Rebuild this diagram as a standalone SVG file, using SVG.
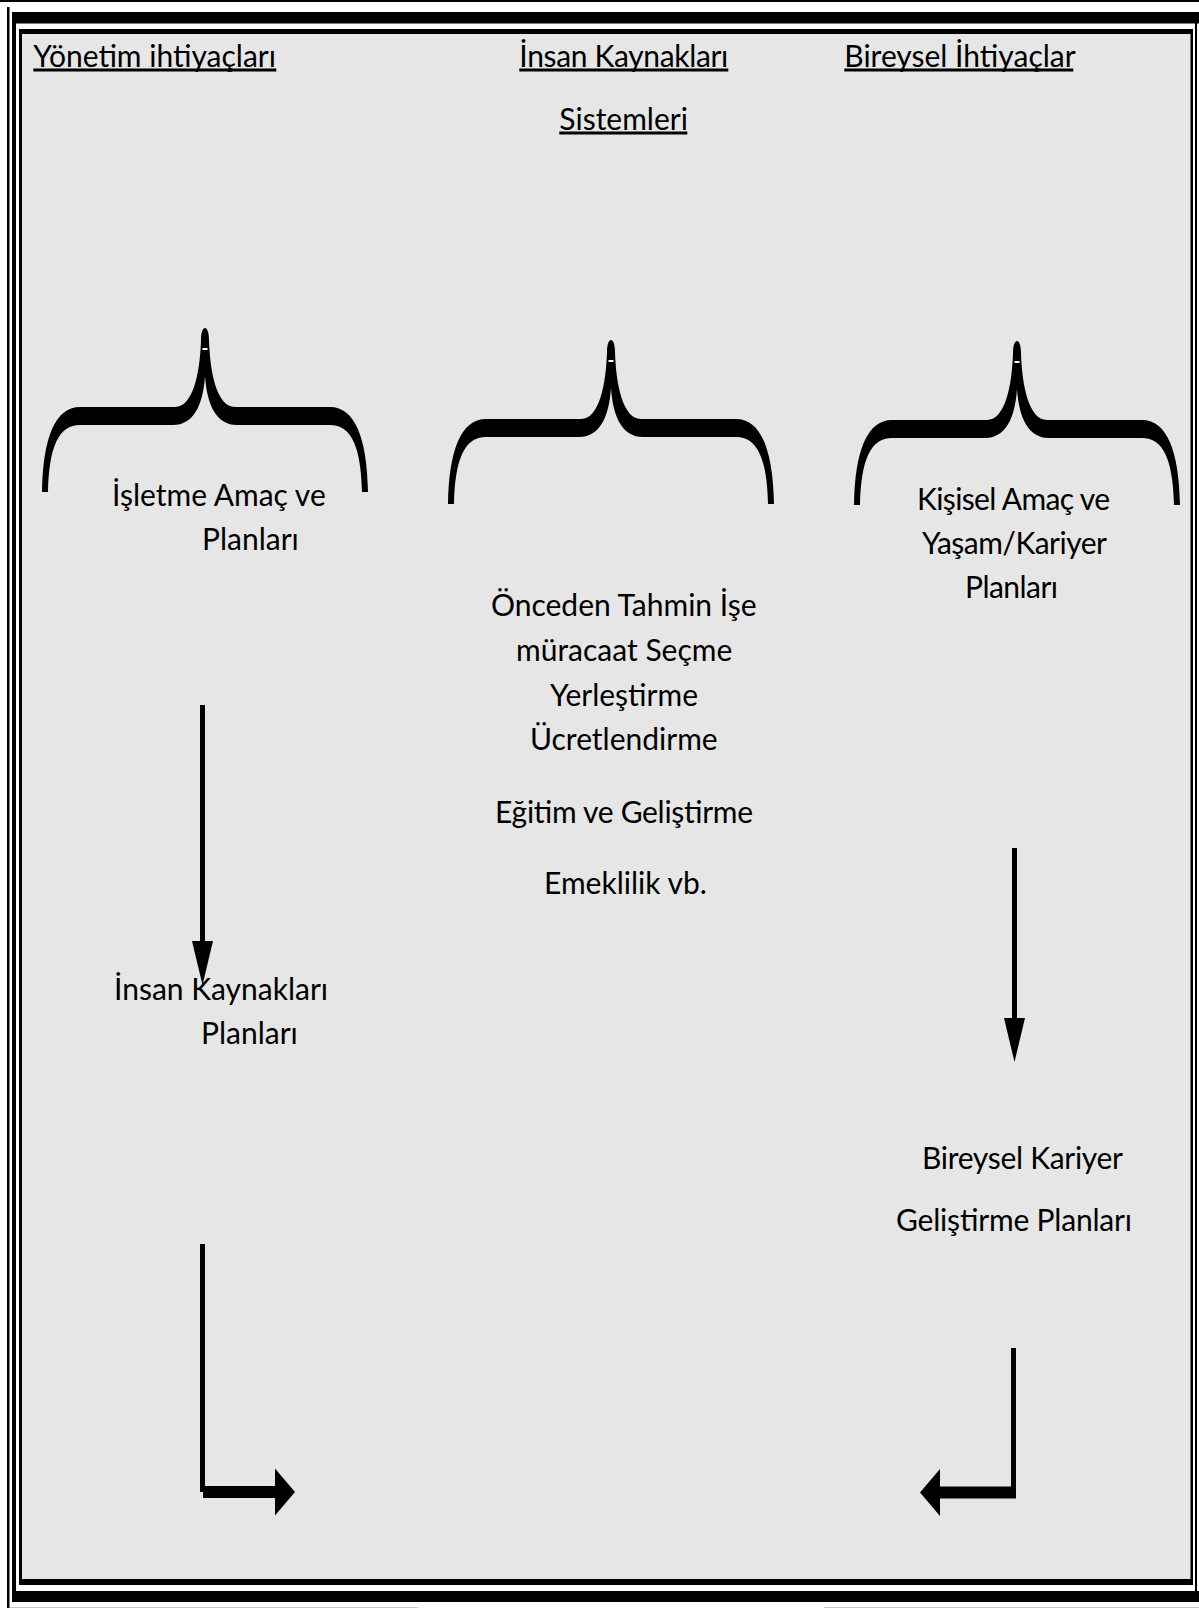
<svg xmlns="http://www.w3.org/2000/svg" width="1199" height="1608" viewBox="0 0 1199 1608">
<style>
  .t { font-family: "Lato", "Carlito", "Liberation Sans", sans-serif; font-size: 30px; fill: #000; }
  .blk { fill: #000; }
  .shaft { stroke: #000; stroke-width: 5; fill: none; }
  .bar { stroke: #000; stroke-width: 12; fill: none; }
</style>
<defs>
  <path id="brace" d="M -163,164 C -162,110 -150,79 -125,79 L -30,79 C -12,79 -5,45 -4,12 C -4,4 -2,0 0,0 C 2,0 4,4 4,12 C 5,45 12,79 30,79 L 125,79 C 150,79 162,110 163,164 L 157,164 C 156,118 146,97 125,97 L 32,97 C 12,97 2,78 0,48 C -2,78 -12,97 -32,97 L -125,97 C -146,97 -156,118 -157,164 Z" fill="#000"/>
  <marker id="head" viewBox="0 0 44 21" refX="2" refY="10.5" markerWidth="44" markerHeight="21" markerUnits="userSpaceOnUse" orient="auto">
    <path d="M0,0 L44,10.5 L0,21 Z" fill="#000"/>
  </marker>
  <marker id="block" viewBox="0 0 20 47" refX="1" refY="23.5" markerWidth="20" markerHeight="47" markerUnits="userSpaceOnUse" orient="auto">
    <path d="M0,0 L20,23.5 L0,47 Z" fill="#000"/>
  </marker>
</defs>

<g id="frame">
  <rect x="0" y="0" width="1199" height="1608" fill="#fff"/>
  <rect x="22" y="34" width="1169" height="1545" fill="#e6e6e6"/>
  <rect class="blk" x="0" y="0" width="1199" height="2"/>
  <rect class="blk" x="7" y="7" width="2.5" height="1601"/>
  <rect class="blk" x="12" y="12" width="1187" height="11.5"/>
  <rect class="blk" x="12" y="12" width="4" height="1590"/>
  <rect class="blk" x="19" y="29" width="1174" height="5"/>
  <rect class="blk" x="19" y="29" width="3" height="1556"/>
  <rect class="blk" x="1190.5" y="29" width="2.5" height="1556"/>
  <rect class="blk" x="1195" y="23" width="2" height="1568"/>
  <rect class="blk" x="19" y="1579" width="1174" height="6"/>
  <rect class="blk" x="12" y="1591" width="1187" height="11"/>
  <rect x="10" y="1607" width="408" height="1" fill="#c8c8c8"/>
  <rect x="824" y="1607" width="375" height="1" fill="#c8c8c8"/>
</g>

<g id="header-yonetim">
  <text class="t" x="33.3" y="67">Yönetim ihtiyaçları</text>
  <rect class="blk" x="33.3" y="68.5" width="243" height="3"/>
</g>
<g id="header-ik-sistemleri">
  <text class="t" x="519.3" y="67" textLength="209" lengthAdjust="spacing">İnsan Kaynakları</text>
  <rect class="blk" x="519.3" y="68.5" width="209" height="3"/>
  <text class="t" x="559.3" y="129.5">Sistemleri</text>
  <rect class="blk" x="559.3" y="131.5" width="128" height="3"/>
</g>
<g id="header-bireysel">
  <text class="t" x="844.3" y="67">Bireysel İhtiyaçlar</text>
  <rect class="blk" x="844.3" y="68.5" width="229" height="3"/>
</g>

<g id="brace-left"><use href="#brace" transform="translate(205,328)"/><rect x="202.5" y="348" width="5" height="2" fill="#fff"/></g>
<g id="brace-middle"><use href="#brace" transform="translate(611,340)"/><rect x="608.5" y="360" width="5" height="2" fill="#fff"/></g>
<g id="brace-right"><use href="#brace" transform="translate(1017,341)"/><rect x="1014.5" y="361" width="5" height="2" fill="#fff"/></g>

<g id="node-isletme">
  <text class="t" x="112" y="506">İşletme Amaç ve</text>
  <text class="t" x="202" y="550">Planları</text>
</g>
<g id="node-kisisel">
  <text class="t" x="917" y="510" textLength="193" lengthAdjust="spacing">Kişisel Amaç ve</text>
  <text class="t" x="922" y="554" textLength="185" lengthAdjust="spacing">Yaşam/Kariyer</text>
  <text class="t" x="965" y="598" textLength="93" lengthAdjust="spacing">Planları</text>
</g>
<g id="node-sistemler">
  <text class="t" x="491" y="616">Önceden Tahmin İşe</text>
  <text class="t" x="516" y="661">müracaat Seçme</text>
  <text class="t" x="550" y="706">Yerleştirme</text>
  <text class="t" x="530" y="750">Ücretlendirme</text>
  <text class="t" x="495" y="823" textLength="258" lengthAdjust="spacing">Eğitim ve Geliştirme</text>
  <text class="t" x="544" y="894">Emeklilik vb.</text>
</g>
<g id="node-ik-planlari">
  <text class="t" x="114" y="1000">İnsan Kaynakları</text>
  <text class="t" x="201" y="1044">Planları</text>
</g>
<g id="node-bireysel-kariyer">
  <text class="t" x="922" y="1169" textLength="201" lengthAdjust="spacing">Bireysel Kariyer</text>
  <text class="t" x="896" y="1231" textLength="236" lengthAdjust="spacing">Geliştirme Planları</text>
</g>

<g id="connectors">
  <line class="shaft" x1="202.5" y1="705" x2="202.5" y2="943" marker-end="url(#head)"/>
  <line class="shaft" x1="1014.5" y1="848" x2="1014.5" y2="1020" marker-end="url(#head)"/>
  <line class="shaft" x1="202.5" y1="1244" x2="202.5" y2="1492"/>
  <line class="bar" x1="203" y1="1492" x2="276" y2="1492" marker-end="url(#block)"/>
  <line class="shaft" x1="1013.5" y1="1348" x2="1013.5" y2="1493"/>
  <line class="bar" x1="1016" y1="1492.5" x2="939" y2="1492.5" marker-end="url(#block)"/>
</g>
</svg>
